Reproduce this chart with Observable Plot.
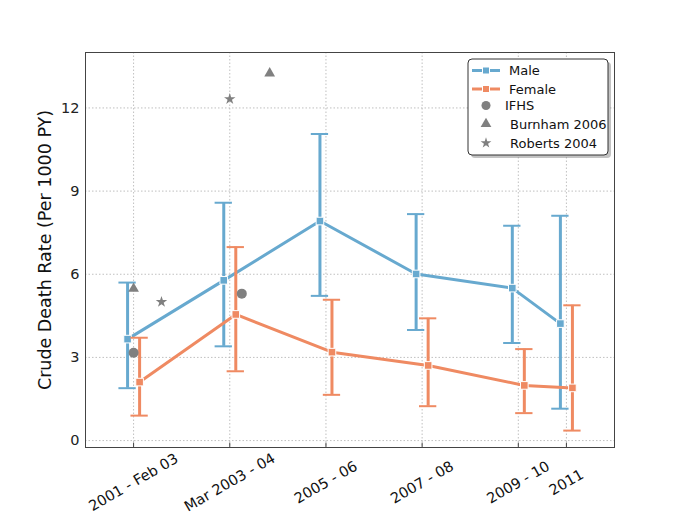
<!DOCTYPE html>
<html>
<head>
<meta charset="utf-8">
<script src="https://cdn.jsdelivr.net/npm/d3@7"></script>
<script src="https://cdn.jsdelivr.net/npm/@observablehq/plot@0.6"></script>
<style>
  body { margin: 0; background: #fff; }
  #chart { position: relative; width: 683px; height: 527px; }
  svg { font-family: "DejaVu Sans", sans-serif; }
</style>
</head>
<body>
<div id="chart"></div>
<script>
// ---- data ----
const years = [2002, 2004, 2006, 2008, 2010, 2011];
const periodLabels = ["2001 - Feb 03", "Mar 2003 - 04", "2005 - 06", "2007 - 08", "2009 - 10", "2011"];
const maleRate = [3.66, 5.78, 7.92, 6.01, 5.50, 4.22];
const maleLow  = [1.89, 3.40, 5.22, 3.99, 3.52, 1.15];
const maleHigh = [5.70, 8.58, 11.06, 8.17, 7.75, 8.11];
const femaleRate = [2.11, 4.55, 3.19, 2.71, 1.99, 1.90];
const femaleLow  = [0.90, 2.50, 1.65, 1.24, 0.99, 0.36];
const femaleHigh = [3.71, 6.98, 5.08, 4.41, 3.30, 4.88];
const ifhsX = [2002, 2004.25];
const ifhsY = [3.17, 5.30];
const burnhamX = [2002, 2004.83];
const burnhamY = [5.48, 13.25];
const robertsX = [2002.58, 2004.0];
const robertsY = [5.0, 12.32];
const yTicks = [0, 3, 6, 9, 12];

const maleColor = "#67a9cf";
const femaleColor = "#ef8a62";
const grayMark = "#808080";
const off = 0.125;
const capHalf = 0.18;
const yDomain = [-0.25, 14.0];

const male = years.map((x, i) => ({x: x - off, y: maleRate[i], lo: maleLow[i], hi: maleHigh[i]}));
const female = years.map((x, i) => ({x: x + off, y: femaleRate[i], lo: femaleLow[i], hi: femaleHigh[i]}));
const ifhs = ifhsX.map((x, i) => ({x, y: ifhsY[i]}));
const burnham = burnhamX.map((x, i) => ({x, y: burnhamY[i]}));
const roberts = robertsX.map((x, i) => ({x, y: robertsY[i]}));
const xt = years.map((x, i) => ({x, label: periodLabels[i]}));

function series(data, color) {
  return [
    Plot.ruleX(data, {x: "x", y1: "lo", y2: "hi", stroke: color, strokeWidth: 3}),
    Plot.ruleY(data, {y: "lo", x1: d => d.x - capHalf, x2: d => d.x + capHalf, stroke: color, strokeWidth: 2}),
    Plot.ruleY(data, {y: "hi", x1: d => d.x - capHalf, x2: d => d.x + capHalf, stroke: color, strokeWidth: 2}),
    Plot.line(data, {x: "x", y: "y", stroke: color, strokeWidth: 3}),
    Plot.dot(data, {x: "x", y: "y", symbol: "square", r: 4.3, fill: color, stroke: "white", strokeWidth: 1})
  ];
}

const chart = Plot.plot({
  width: 683,
  height: 527,
  marginLeft: 85,
  marginRight: 69,
  marginTop: 52,
  marginBottom: 80,
  style: {fontFamily: "DejaVu Sans, sans-serif", fontSize: "14px", color: "#222"},
  x: {domain: [2001, 2012], axis: null},
  y: {domain: yDomain, ticks: yTicks, label: null},
  marks: [
    Plot.gridY(yTicks, {stroke: "#b0b0b0", strokeOpacity: 1, strokeDasharray: "1.5,2", strokeWidth: 0.8}),
    Plot.gridX(years, {stroke: "#b0b0b0", strokeOpacity: 1, strokeDasharray: "1.5,2", strokeWidth: 0.8}),
    Plot.axisY(yTicks, {tickSize: 0, tickPadding: 6, fontSize: 14.5, label: null}),
    Plot.ruleX(years, {x: d => d, y1: yDomain[0], y2: yDomain[0] + 0.16, stroke: "#444", strokeWidth: 1}),
    Plot.text(xt, {x: "x", text: "label", frameAnchor: "bottom", dy: 35, rotate: -30,
                   textAnchor: "middle", lineAnchor: "middle", fontSize: 14.5, fill: "#111"}),
    Plot.text(["Crude Death Rate (Per 1000 PY)"], {frameAnchor: "left", dx: -40, rotate: -90,
                   textAnchor: "middle", lineAnchor: "middle", fontSize: 17.5, fill: "#111"}),
    ...series(male, maleColor),
    ...series(female, femaleColor),
    Plot.dot(ifhs, {x: "x", y: "y", symbol: "circle", r: 5, fill: grayMark}),
    Plot.dot(burnham, {x: "x", y: "y", symbol: "triangle", r: 4, fill: grayMark}),
    Plot.dot(roberts, {x: "x", y: "y", symbol: "star", r: 3.6, fill: grayMark}),
    Plot.frame({stroke: "#444", strokeWidth: 1})
  ]
});

document.getElementById("chart").appendChild(chart);

// ---- legend (drawn into the SVG) ----
const svg = d3.select(chart);
const lg = svg.append("g").attr("font-family", "DejaVu Sans, sans-serif").attr("font-size", 13)
  .attr("text-anchor", "start");
const bx = 468, by = 59, bw = 140, bh = 96;
lg.append("rect").attr("x", bx + 3).attr("y", by + 3).attr("width", bw).attr("height", bh)
  .attr("rx", 4).attr("fill", "#888").attr("opacity", 0.5);
lg.append("rect").attr("x", bx).attr("y", by).attr("width", bw).attr("height", bh)
  .attr("rx", 4).attr("fill", "white").attr("stroke", "#333").attr("stroke-width", 1);
const entries = [
  {label: "Male", type: "line", color: maleColor, y: 70.5, tx: 509},
  {label: "Female", type: "line", color: femaleColor, y: 89, tx: 509},
  {label: "IFHS", type: "circle", y: 105.5, tx: 505},
  {label: "Burnham 2006", type: "triangle", y: 124, tx: 510},
  {label: "Roberts 2004", type: "star", y: 143, tx: 510}
];
for (const e of entries) {
  if (e.type === "line") {
    lg.append("line").attr("x1", 472).attr("x2", 500).attr("y1", e.y).attr("y2", e.y)
      .attr("stroke", e.color).attr("stroke-width", 3);
    lg.append("rect").attr("x", 482.5).attr("y", e.y - 3.5).attr("width", 7).attr("height", 7)
      .attr("fill", e.color).attr("stroke", "white").attr("stroke-width", 1);
  } else {
    const sym = e.type === "circle" ? d3.symbolCircle : e.type === "triangle" ? d3.symbolTriangle : d3.symbolStar;
    const size = e.type === "circle" ? 64 : e.type === "triangle" ? 50 : 36;
    lg.append("path").attr("d", d3.symbol(sym, size)()).attr("transform", `translate(486,${e.y})`)
      .attr("fill", grayMark);
  }
  lg.append("text").attr("x", e.tx).attr("y", e.y).attr("dy", "0.35em").attr("fill", "#111")
    .attr("text-anchor", "start").text(e.label);
}
</script>
</body>
</html>
